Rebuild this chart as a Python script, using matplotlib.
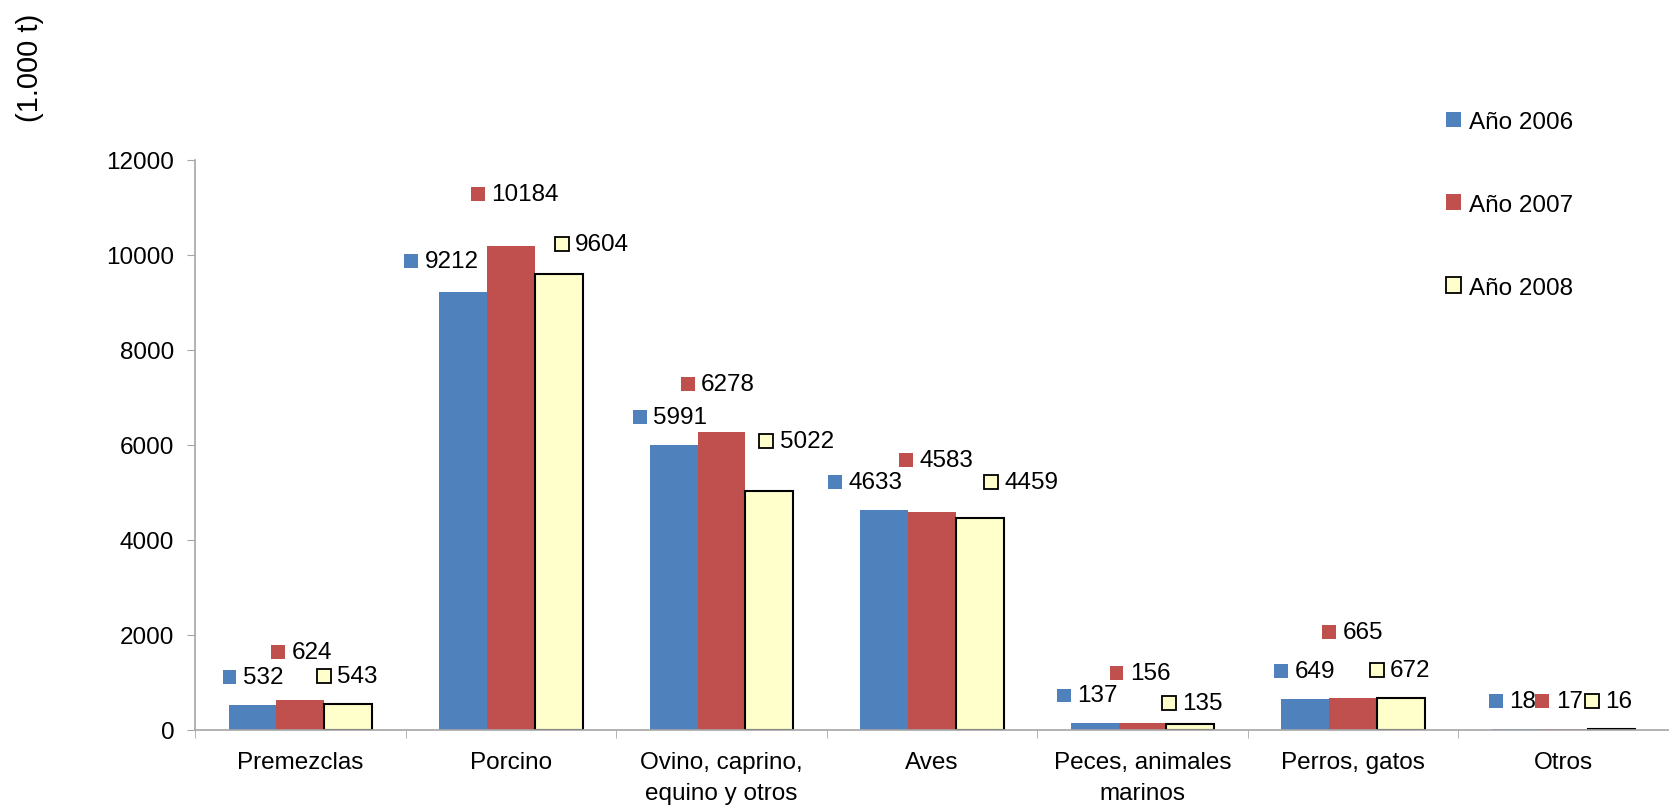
import matplotlib
matplotlib.use("Agg")
import matplotlib.pyplot as plt
from matplotlib.patches import Rectangle, Patch
from matplotlib.offsetbox import DrawingArea, TextArea, HPacker, AnnotationBbox
import numpy as np

plt.rcParams['font.family'] = ['Liberation Sans', 'DejaVu Sans']

categories = ["Premezclas", "Porcino", "Ovino, caprino,\nequino y otros", "Aves",
              "Peces, animales\nmarinos", "Perros, gatos", "Otros"]
series_names = ["Año 2006", "Año 2007", "Año 2008"]
values_2006 = [532, 9212, 5991, 4633, 137, 649, 18]
values_2007 = [624, 10184, 6278, 4583, 156, 665, 17]
values_2008 = [543, 9604, 5022, 4459, 135, 672, 16]
y_ticks = [0, 2000, 4000, 6000, 8000, 10000, 12000]

colors = ["#4F81BD", "#C0504D", "#FFFFCC"]
edges = [None, None, "black"]

# label placement (pixel offsets of each value label from its bar top)
label_dx = [[0, 1, -1], [-22, 4, 33], [-4, -4, 27], [-19, 4, 41],
            [-8, -3, 2], [-1, -1, -1], [-4, -5, -3]]
label_dy = [[28, 48, 28], [31, 52, 30], [28, 48, 50], [28, 52, 36],
            [28, 50, 21], [28, 66, 28], [28, 28, 28]]

W, H, DPI = 1669, 812, 100
fig = plt.figure(figsize=(W / DPI, H / DPI), dpi=DPI)
ax = fig.add_axes([195 / W, 81 / H, (W - 195) / W, (731 - 160.7) / H])

x = np.arange(len(categories))
bw = 0.227
series = [values_2006, values_2007, values_2008]
px2pt = 72 / DPI
fs = 17.5

for i, vals in enumerate(series):
    xs = x + (i - 1) * bw
    if edges[i]:
        ax.bar(xs, vals, width=bw, color=colors[i], edgecolor=edges[i], linewidth=1.5, zorder=2)
    else:
        ax.bar(xs, vals, width=bw, color=colors[i], linewidth=0, zorder=2)
    for j, v in enumerate(vals):
        da = DrawingArea(11, 11, 0, 0)
        da.add_artist(Rectangle((0.5, 0.5), 10, 10, facecolor=colors[i],
                                edgecolor=edges[i] if edges[i] else colors[i],
                                linewidth=1.3 if edges[i] else 0))
        ta = TextArea(str(v), textprops=dict(fontsize=fs, color="black"))
        box = HPacker(children=[da, ta], sep=4, pad=0, align="center")
        ab = AnnotationBbox(box, (xs[j], v),
                            xybox=(label_dx[j][i] * px2pt, label_dy[j][i] * px2pt),
                            boxcoords="offset points", frameon=False,
                            box_alignment=(0.5, 0.5), pad=0, annotation_clip=False)
        ax.add_artist(ab)

ax.set_xlim(-0.5, 6.46)
ax.set_ylim(0, 12000)
ax.set_yticks(y_ticks)
ax.set_yticklabels([str(t) for t in y_ticks], fontsize=fs)
ax.set_xticks(x)
ax.set_xticklabels(categories, fontsize=fs, linespacing=1.55)
ax.set_xticks(np.arange(-0.5, 7, 1), minor=True)
ax.tick_params(axis="x", which="major", length=0, pad=15)
ax.tick_params(axis="x", which="minor", length=6, color="#A6A6A6", direction="out")
ax.tick_params(axis="y", length=6, color="#A6A6A6", pad=9)
for s in ["top", "right"]:
    ax.spines[s].set_visible(False)
for s in ["left", "bottom"]:
    ax.spines[s].set_color("#A6A6A6")
    ax.spines[s].set_linewidth(1.2)

fig.text(30 / W, 1 - 68 / H, "(1.000 t)", rotation=90, fontsize=21,
         ha="center", va="center")

handles = [Patch(facecolor=colors[i], edgecolor=edges[i] if edges[i] else colors[i],
                 linewidth=1.3 if edges[i] else 0) for i in range(3)]
fig.legend(handles, series_names, loc="upper left", bbox_to_anchor=(1446 / W, 1 - 112 / H),
           frameon=False, fontsize=fs, handlelength=0.6, handleheight=0.6,
           handletextpad=0.35, labelspacing=2.5, borderpad=0, borderaxespad=0)

fig.savefig("out.png", dpi=DPI)
